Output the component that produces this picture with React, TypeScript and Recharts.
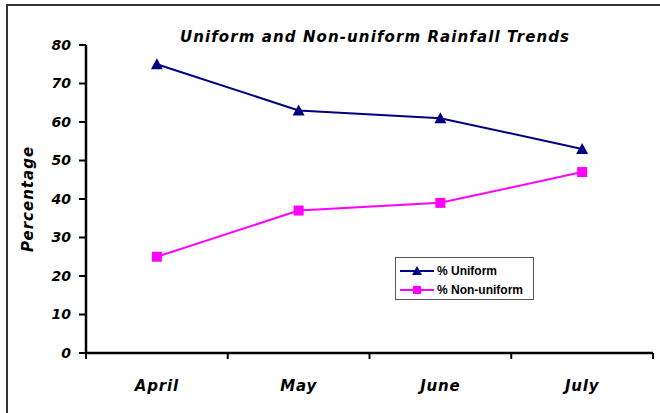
import React from "react";
import { LineChart, Line, XAxis, YAxis, Legend } from "recharts";

const months = ["April", "May", "June", "July"];
const uniform = [75, 63, 61, 53];
const nonUniform = [25, 37, 39, 47];
const yTicks = [0, 10, 20, 30, 40, 50, 60, 70, 80];

const NAVY = "#000080";
const MAGENTA = "#FF00FF";
const FONT = "'DejaVu Sans', 'Liberation Sans', Arial, sans-serif";
const LFONT = "'Liberation Sans', Arial, sans-serif";

const data = months.map((m, i) => ({
  pos: i + 0.5,
  month: m,
  uniform: uniform[i],
  nonUniform: nonUniform[i],
}));

// tick positions: category boundaries (integers) and centers (labels)
const xTicks: number[] = [];
for (let i = 0; i <= months.length; i++) {
  xTicks.push(i);
  if (i < months.length) xTicks.push(i + 0.5);
}

const Triangle = (props: any) => {
  const { cx, cy } = props;
  if (cx == null || cy == null) return null;
  return (
    <polygon
      points={`${cx},${cy - 6} ${cx - 6},${cy + 5} ${cx + 6},${cy + 5}`}
      fill={NAVY}
    />
  );
};

const Square = (props: any) => {
  const { cx, cy } = props;
  if (cx == null || cy == null) return null;
  return <rect x={cx - 5} y={cy - 5} width={10} height={10} fill={MAGENTA} />;
};

const XTick = (props: any) => {
  const { x, y, payload } = props;
  const v = payload.value as number;
  if (Number.isInteger(v)) {
    return <line x1={x} y1={y - 7} x2={x} y2={y - 1} stroke="#000" strokeWidth={2} />;
  }
  const label = months[Math.floor(v)];
  return (
    <text
      x={x}
      y={y + 31}
      textAnchor="middle"
      fontFamily={FONT}
      fontWeight="bold"
      fontStyle="italic"
      fontSize={15}
      letterSpacing={0.8}
      fill="#000"
    >
      {label}
    </text>
  );
};

const LegendContent = () => {
  const items = [
    { label: "% Uniform", color: NAVY, shape: "tri" },
    { label: "% Non-uniform", color: MAGENTA, shape: "sq" },
  ];
  return (
    <div
      style={{
        border: "1px solid #555",
        width: 139,
        height: 43,
        boxSizing: "border-box",
        background: "#fff",
        paddingTop: 3,
      }}
    >
      {items.map((it) => (
        <div key={it.label} style={{ display: "flex", alignItems: "center", height: 19, paddingLeft: 4 }}>
          <svg width={36} height={12}>
            <line x1={0} y1={6} x2={34} y2={6} stroke={it.color} strokeWidth={2} />
            {it.shape === "tri" ? (
              <polygon points="17,1 12,10 22,10" fill={it.color} />
            ) : (
              <rect x={13} y={2} width={8} height={8} fill={it.color} />
            )}
          </svg>
          <span
            style={{
              fontFamily: LFONT,
              fontWeight: "bold",
              fontSize: 12,
              color: "#000",
              marginLeft: 1,
              whiteSpace: "nowrap",
            }}
          >
            {it.label}
          </span>
        </div>
      ))}
    </div>
  );
};

export default function App() {
  return (
    <div style={{ position: "absolute", left: 0, top: 0, width: 660, height: 413, overflow: "hidden", background: "#fff" }}>
      <div
        style={{
          position: "absolute",
          left: 6,
          top: 4,
          width: 700,
          height: 500,
          border: "2px solid #333",
          boxSizing: "border-box",
        }}
      />
      <div
        style={{
          position: "absolute",
          left: 0,
          width: 750,
          top: 28,
          textAlign: "center",
          fontFamily: FONT,
          fontWeight: "bold",
          fontStyle: "italic",
          fontSize: 15,
          letterSpacing: 1.1,
          color: "#000",
          lineHeight: "18px",
          whiteSpace: "nowrap",
        }}
      >
        Uniform and Non-uniform Rainfall Trends
      </div>
      <div
        style={{
          position: "absolute",
          left: 28,
          top: 199,
          transform: "translate(-50%, -50%) rotate(-90deg)",
          fontFamily: FONT,
          fontWeight: "bold",
          fontStyle: "italic",
          fontSize: 15,
          letterSpacing: 1,
          color: "#000",
          whiteSpace: "nowrap",
        }}
      >
        Percentage
      </div>
      <div style={{ position: "absolute", left: 0, top: 0 }}>
        <LineChart
          width={660}
          height={413}
          data={data}
          margin={{ top: 45, right: 7, bottom: 0, left: 0 }}
        >
          <XAxis
            dataKey="pos"
            type="number"
            domain={[0, months.length]}
            ticks={xTicks}
            interval={0}
            height={60}
            axisLine={{ stroke: "#000", strokeWidth: 2.5 }}
            tickLine={false}
            tickSize={7}
            tickMargin={0}
            tick={<XTick />}
          />
          <YAxis
            type="number"
            domain={[0, 80]}
            ticks={yTicks}
            interval={0}
            width={86}
            axisLine={{ stroke: "#000", strokeWidth: 2.5 }}
            tickLine={{ stroke: "#000", strokeWidth: 2 }}
            tickSize={7}
            tickMargin={8}
            tick={{
              fill: "#000",
              fontFamily: FONT,
              fontWeight: "bold",
              fontStyle: "italic",
              fontSize: 14,
            }}
          />
          <Legend
            layout="vertical"
            align="center"
            verticalAlign="middle"
            content={<LegendContent />}
            wrapperStyle={{ position: "absolute", left: 395, top: 257, width: 139, height: 43 }}
          />
          <Line
            dataKey="uniform"
            name="% Uniform"
            stroke={NAVY}
            strokeWidth={2}
            dot={<Triangle />}
            activeDot={false}
            isAnimationActive={false}
          />
          <Line
            dataKey="nonUniform"
            name="% Non-uniform"
            stroke={MAGENTA}
            strokeWidth={2}
            dot={<Square />}
            activeDot={false}
            isAnimationActive={false}
          />
        </LineChart>
      </div>
    </div>
  );
}
